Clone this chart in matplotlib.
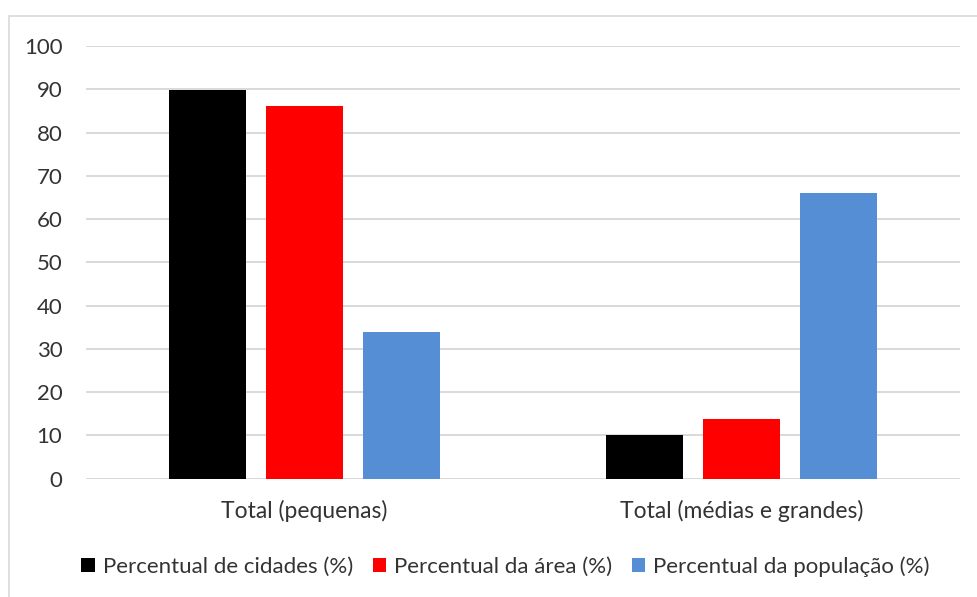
import matplotlib.pyplot as plt
from matplotlib.patches import Rectangle
import numpy as np

categories = ["Total (pequenas)", "Total (médias e grandes)"]
series_names = ["Percentual de cidades (%)", "Percentual da área (%)", "Percentual da população (%)"]
cidades = [89.8, 10.2]
area = [86.2, 13.8]
populacao = [34.0, 66.0]
yticks = list(range(0, 101, 10))

colors = ["#000000", "#FF0000", "#558ED5"]
text_color = "#333333"

plt.rcParams['font.family'] = ['Lato', 'DejaVu Sans']

fig = plt.figure(figsize=(9.77, 5.97), dpi=100)
# light frame around the chart area
fig.patches.append(Rectangle((9 / 977, -0.1), 1.2, (597 - 16) / 597 + 0.1,
                             transform=fig.transFigure, fill=False,
                             edgecolor="#d9d9d9", linewidth=1.2))

ax = fig.add_axes([86 / 977, 118.3 / 597, 874 / 977, 432.7 / 597])

x = np.arange(len(categories))
width = 0.174
offset = 0.222
for i, (vals, name) in enumerate(zip([cidades, area, populacao], series_names)):
    ax.bar(x + (i - 1) * offset, vals, width, color=colors[i], label=name, zorder=3)

ax.set_xlim(-0.5, 1.5)
ax.set_ylim(0, 100)
ax.set_yticks(yticks)
ax.set_xticks(x)
ax.set_xticklabels(categories, fontsize=16.5, color=text_color)
ax.tick_params(axis="y", labelsize=16, labelcolor=text_color, length=0, pad=17)
ax.tick_params(axis="x", length=0, pad=15)
ax.grid(axis="y", color="#d9d9d9", linewidth=1.4, zorder=0)
for s in ax.spines.values():
    s.set_visible(False)

leg = ax.legend(loc="upper center", bbox_to_anchor=(0.48, -0.134), ncol=3, frameon=False,
                fontsize=16, handlelength=0.6, handleheight=0.6, handletextpad=0.35,
                columnspacing=0.9)
for t in leg.get_texts():
    t.set_color(text_color)

fig.savefig("out.png", dpi=100)
